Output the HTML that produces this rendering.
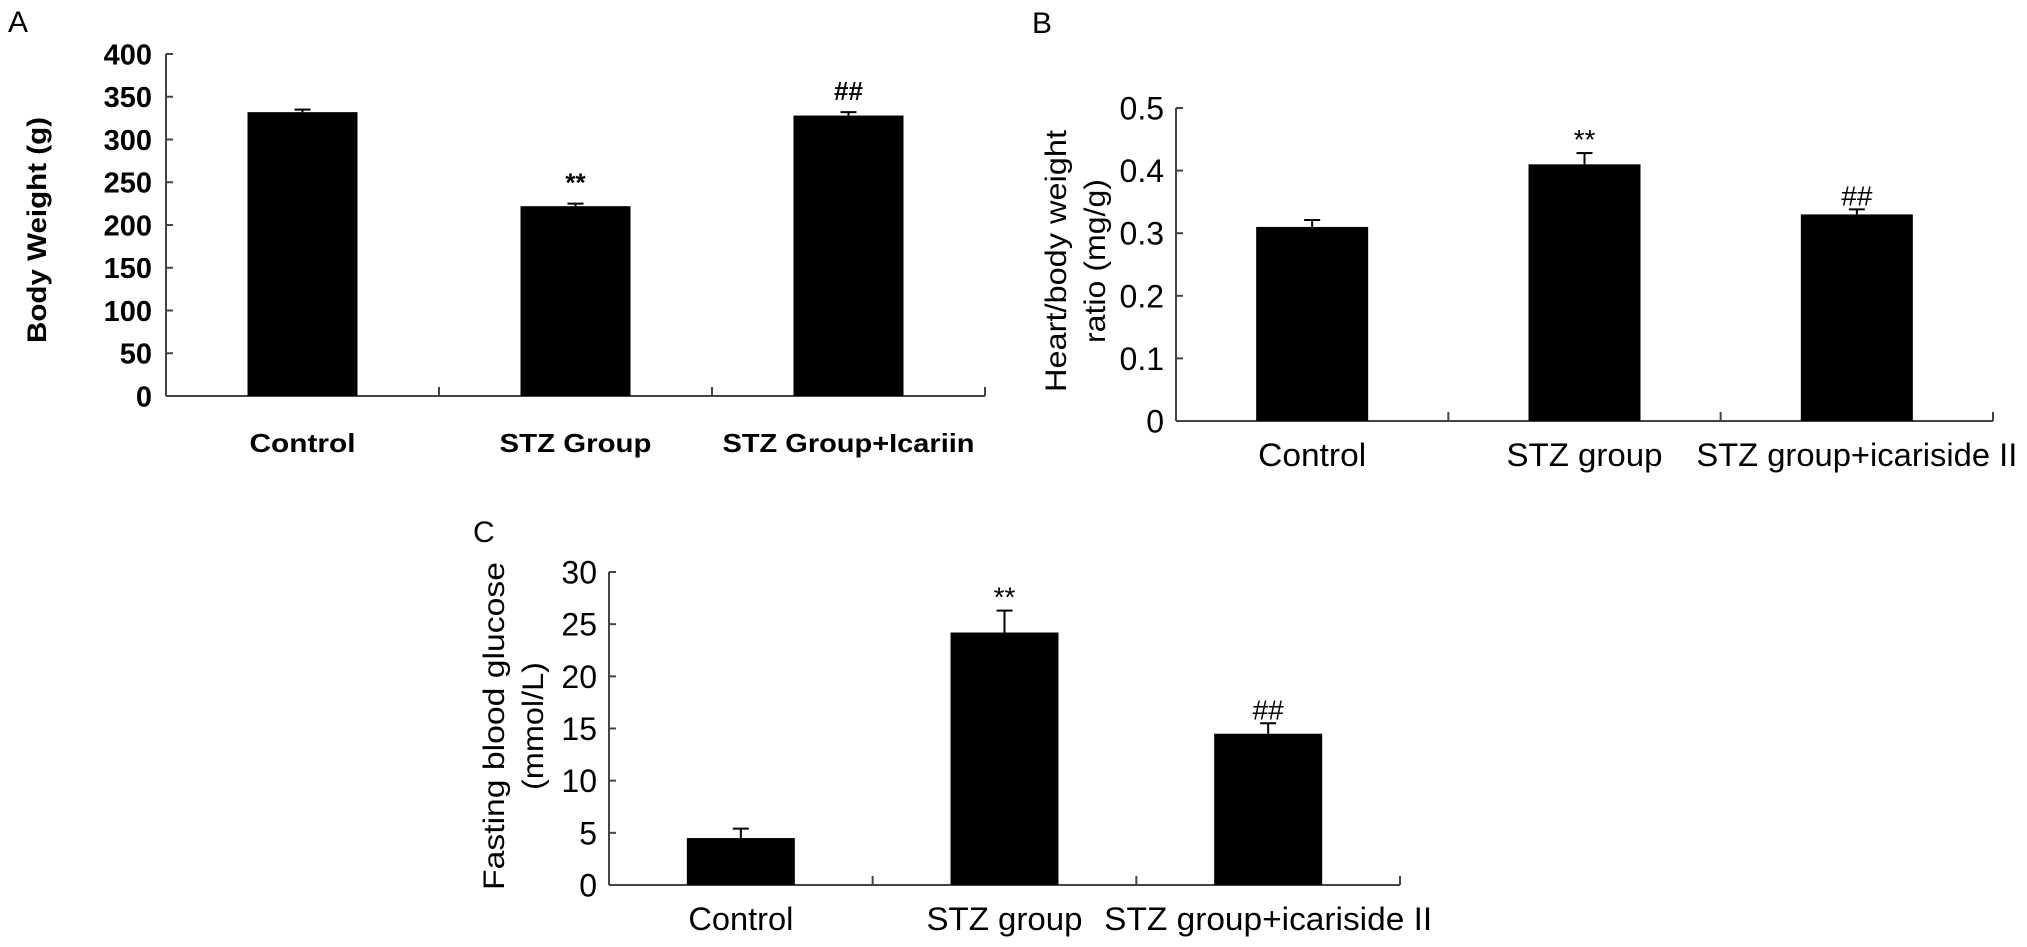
<!DOCTYPE html>
<html><head><meta charset="utf-8">
<style>
html,body{margin:0;padding:0;background:#fff;}
svg{display:block;}
text{fill:#000;}
.bf{font-family:"Liberation Sans",Arial,sans-serif;font-weight:bold;}
.nf{font-family:"Liberation Sans Narrow","Liberation Sans",Arial,sans-serif;}
</style></head>
<body>
<svg id="fig" width="2027" height="947" viewBox="0 0 2027 947" xmlns="http://www.w3.org/2000/svg"></svg>
<script>
// Panel A data
const catsA = ["Control", "STZ Group", "STZ Group+Icariin"];
const valsA = [332, 222, 328];
const errA = [3, 3, 4];
const marksA = ["", "**", "##"];
const ticksA = [0, 50, 100, 150, 200, 250, 300, 350, 400];
// Panel B data
const catsB = ["Control", "STZ group", "STZ group+icariside II"];
const valsB = [0.31, 0.41, 0.33];
const errB = [0.011, 0.018, 0.008];
const marksB = ["", "**", "##"];
const ticksB = [0, 0.1, 0.2, 0.3, 0.4, 0.5];
const tickLabelsB = ["0", "0.1", "0.2", "0.3", "0.4", "0.5"];
// Panel C data
const catsC = ["Control", "STZ group", "STZ group+icariside II"];
const valsC = [4.5, 24.2, 14.5];
const errC = [0.9, 2.1, 1.0];
const marksC = ["", "**", "##"];
const ticksC = [0, 5, 10, 15, 20, 25, 30];

const NS = "http://www.w3.org/2000/svg";
const svg = document.getElementById("fig");
function mk(tag, attrs, parent) {
  const e = document.createElementNS(NS, tag);
  for (const k in attrs) e.setAttribute(k, attrs[k]);
  (parent || svg).appendChild(e);
  return e;
}

function drawPanel(cfg) {
  const g = mk("g", {});
  
  
  const yScale = v => cfg.y0 - (v - cfg.vmin) / (cfg.vmax - cfg.vmin) * (cfg.y0 - cfg.y1);
  const step = (cfg.xEnd - cfg.x0) / cfg.cats.length;
  const xCenter = i => cfg.x0 + step * (i + 0.5);
  const pl = mk("text", {x: cfg.letterX, y: cfg.letterY, "font-size": 30, class: "nf"}, g);
  pl.textContent = cfg.letter;
  
  
  const ya = mk("line", {x1: cfg.x0, y1: cfg.y1, x2: cfg.x0, y2: cfg.y0, stroke: "#444", "stroke-width": 2}, g);
  
  
  const xa = mk("line", {x1: cfg.x0, y1: cfg.y0, x2: cfg.xEnd, y2: cfg.y0, stroke: "#444", "stroke-width": 2}, g);
  
  
  cfg.ticks.forEach((t, i) => {
    const y = yScale(t);
    const tk = mk("line", {x1: cfg.x0, y1: y, x2: cfg.x0 + 7, y2: y, stroke: "#444", "stroke-width": 2}, g);
    
    
    const tl = mk("text", {x: cfg.x0 - cfg.tickGap, y: y + cfg.tickFont * 0.36, "font-size": cfg.tickFont, "text-anchor": "end", class: cfg.fontClass}, g);
    tl.textContent = cfg.tickLabels ? cfg.tickLabels[i] : String(t);
    
    
  });
  for (let i = 1; i <= cfg.cats.length; i++) {
    const x = cfg.x0 + step * i;
    const tk = mk("line", {x1: x, y1: cfg.y0, x2: x, y2: cfg.y0 - 9, stroke: "#444", "stroke-width": 2}, g);
    
    
  }
  cfg.cats.forEach((c, i) => {
    const cx = xCenter(i);
    const top = yScale(cfg.vals[i]);
    const bar = mk("rect", {x: cx - cfg.barW / 2, y: top, width: cfg.barW, height: cfg.y0 - top, fill: "#000"}, g);
    
    
    const et = yScale(cfg.vals[i] + cfg.errs[i]);
    const el = mk("line", {x1: cx, y1: top, x2: cx, y2: et, stroke: "#000", "stroke-width": 2}, g);
    
    
    const ec = mk("line", {x1: cx - 8, y1: et, x2: cx + 8, y2: et, stroke: "#000", "stroke-width": 2}, g);
    
    
    if (cfg.marks[i]) {
      const m = mk("text", {x: cx, y: et - cfg.markGap, "font-size": cfg.markFont, "text-anchor": "middle", class: cfg.markClass}, g);
      m.textContent = cfg.marks[i];
      
      
    }
    const lab = mk("text", {x: cx, y: cfg.labelY, "font-size": cfg.labelFont, "text-anchor": "middle", class: cfg.fontClass, textLength: cfg.labelLens[i], lengthAdjust: "spacingAndGlyphs"}, g);
    lab.textContent = c;
    
    
  });
  cfg.titles.forEach((t, k) => {
    const tt = mk("text", {x: 0, y: 0, "font-size": cfg.titleFont, "text-anchor": "middle", class: cfg.titleClass,
      transform: "translate(" + t.x + "," + cfg.titleCy + ") rotate(-90)", textLength: t.len, lengthAdjust: "spacingAndGlyphs"}, g);
    tt.textContent = t.text;
    
    
  });
}

drawPanel({name: "panel-a-body-weight", letter: "A", letterX: 8, letterY: 32,
  cats: catsA, vals: valsA, errs: errA, marks: marksA, ticks: ticksA,
  vmin: 0, vmax: 400, x0: 166, xEnd: 985, y0: 396, y1: 54, barW: 110,
  tickFont: 29, tickGap: 14, fontClass: "bf", labelFont: 26, labelY: 452,
  labelLens: [106, 152, 252], markFont: 26, markGap: 12, markClass: "bf",
  titleFont: 27, titleClass: "bf", titleCy: 230, titles: [{x: 46, text: "Body Weight (g)", len: 226}]});

drawPanel({name: "panel-b-heart-body-ratio", letter: "B", letterX: 1032, letterY: 33,
  cats: catsB, vals: valsB, errs: errB, marks: marksB, ticks: ticksB, tickLabels: tickLabelsB,
  vmin: 0, vmax: 0.5, x0: 1176, xEnd: 1993, y0: 421, y1: 108, barW: 112,
  tickFont: 32, tickGap: 12, fontClass: "nf", labelFont: 32, labelY: 466,
  labelLens: [108, 156, 321], markFont: 28, markGap: 4, markClass: "nf",
  titleFont: 30, titleClass: "nf", titleCy: 261,
  titles: [{x: 1066, text: "Heart/body weight", len: 262}, {x: 1105, text: "ratio (mg/g)", len: 164}]});

drawPanel({name: "panel-c-fasting-glucose", letter: "C", letterX: 473, letterY: 542,
  cats: catsC, vals: valsC, errs: errC, marks: marksC, ticks: ticksC,
  vmin: 0, vmax: 30, x0: 609, xEnd: 1400, y0: 885, y1: 572, barW: 108,
  tickFont: 32, tickGap: 12, fontClass: "nf", labelFont: 32, labelY: 930,
  labelLens: [105, 156, 328], markFont: 28, markGap: 4, markClass: "nf",
  titleFont: 30, titleClass: "nf", titleCy: 726,
  titles: [{x: 504, text: "Fasting blood glucose", len: 328}, {x: 543, text: "(mmol/L)", len: 128}]});
</script>
</body></html>
